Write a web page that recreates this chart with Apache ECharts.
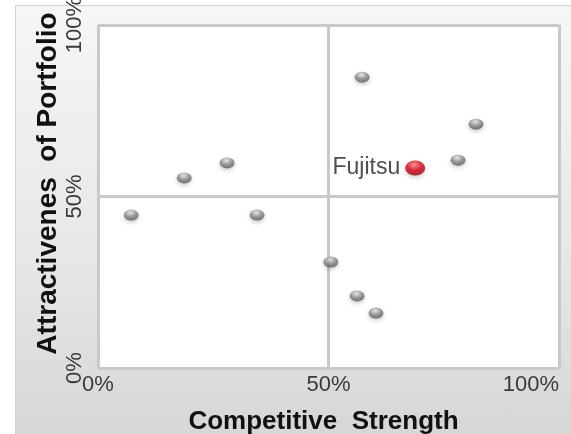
<!DOCTYPE html>
<html lang="en">
<head>
    <meta charset="UTF-8">
    <title>Portfolio Matrix</title>
    <script src="https://cdn.jsdelivr.net/npm/echarts@6/dist/echarts.min.js"></script>
    <style>
        body {margin: 0; background: #fff;}
        #wrap {position: relative; width: 571px; height: 434px; overflow: hidden;}
        #frame {position: absolute; left: 15px; top: 5px; width: 562px; height: 435px;
            border: 1px solid #d2d2d2; box-sizing: border-box;
            background: linear-gradient(#f6f6f6, #e8e8e8 55%, #d6d6d6);}
        #main {position: absolute; left: 0; top: 0; width: 571px; height: 434px;}
    </style>
</head>
<body>
<div id="wrap">
    <div id="frame"></div>
    <div id="main"></div>
</div>
<script>
    // competitive strength (x) / attractiveness (y), in %
    var xValues = [7.2, 18.7, 28.0, 34.5, 57.3, 82.0, 78.1, 50.5, 56.2, 60.3];
    var yValues = [44.6, 55.4, 59.8, 44.6, 84.8, 71.1, 60.6, 30.9, 21.0, 16.0];
    var fujitsuPoint = [68.8, 58.3];
    var axisTicks = [0, 50, 100];

    var myChart = echarts.init(document.getElementById('main'));

    var others = xValues.map(function (x, i) { return [x, yValues[i]]; });

    var labelFont = 'Arial, "Liberation Sans", sans-serif';

    var option = {
        backgroundColor: 'transparent',
        animation: false,
        grid: {
            left: 98, right: 12, top: 25, bottom: 66,
            outerBoundsMode: 'none',
            containLabel: false,
            show: true,
            backgroundColor: '#ffffff',
            borderWidth: 0
        },
        xAxis: {
            type: 'value',
            min: axisTicks[0],
            max: axisTicks[2],
            interval: 50,
            name: 'Competitive  Strength',
            nameLocation: 'middle',
            nameGap: 41,
            nameMoveOverlap: false,
            nameTextStyle: {fontSize: 26, fontWeight: 'bold', color: '#111', fontFamily: labelFont,
                padding: [0, 10, 0, 0]},
            axisLine: {show: false},
            axisTick: {show: false},
            axisLabel: {
                formatter: '{value}%',
                fontSize: 22,
                color: '#3a3a3a',
                fontFamily: labelFont,
                margin: 6,
                alignMaxLabel: 'right'
            },
            splitLine: {lineStyle: {color: '#c9c9c9', width: 3}}
        },
        yAxis: {
            type: 'value',
            min: axisTicks[0],
            max: axisTicks[2],
            interval: 50,
            name: 'Attractivenes  of Portfolio',
            nameLocation: 'middle',
            nameGap: 36,
            nameMoveOverlap: false,
            nameTextStyle: {fontSize: 28, fontWeight: 'bold', color: '#111', fontFamily: labelFont,
                padding: [0, 0, 0, 26]},
            axisLine: {show: false},
            axisTick: {show: false},
            axisLabel: {
                formatter: '{value}%',
                fontSize: 22,
                color: '#3a3a3a',
                fontFamily: labelFont,
                rotate: 90,
                margin: 12
            },
            splitLine: {lineStyle: {color: '#c9c9c9', width: 3}}
        },
        series: [
            {
                name: 'Competitors',
                type: 'scatter',
                symbol: 'circle',
                symbolSize: [15, 11],
                itemStyle: {
                    color: new echarts.graphic.RadialGradient(0.45, 0.3, 0.8, [
                        {offset: 0, color: '#e8e8e8'},
                        {offset: 0.45, color: '#8a8a8a'},
                        {offset: 1, color: '#4a4a4a'}
                    ]),
                    shadowColor: 'rgba(0,0,0,0.25)',
                    shadowBlur: 4,
                    shadowOffsetY: 2
                },
                data: others
            },
            {
                name: 'Fujitsu',
                type: 'scatter',
                symbol: 'circle',
                symbolSize: [20, 15],
                itemStyle: {
                    color: new echarts.graphic.RadialGradient(0.45, 0.3, 0.8, [
                        {offset: 0, color: '#ff8080'},
                        {offset: 0.45, color: '#d8001a'},
                        {offset: 1, color: '#8a0008'}
                    ]),
                    shadowColor: 'rgba(0,0,0,0.25)',
                    shadowBlur: 4,
                    shadowOffsetY: 2
                },
                label: {
                    show: true,
                    position: 'left',
                    distance: 5,
                    formatter: 'Fujitsu',
                    fontSize: 23,
                    color: '#222',
                    fontFamily: labelFont
                },
                data: [fujitsuPoint]
            }
        ]
    };
    myChart.setOption(option);
</script>
</body>
</html>
